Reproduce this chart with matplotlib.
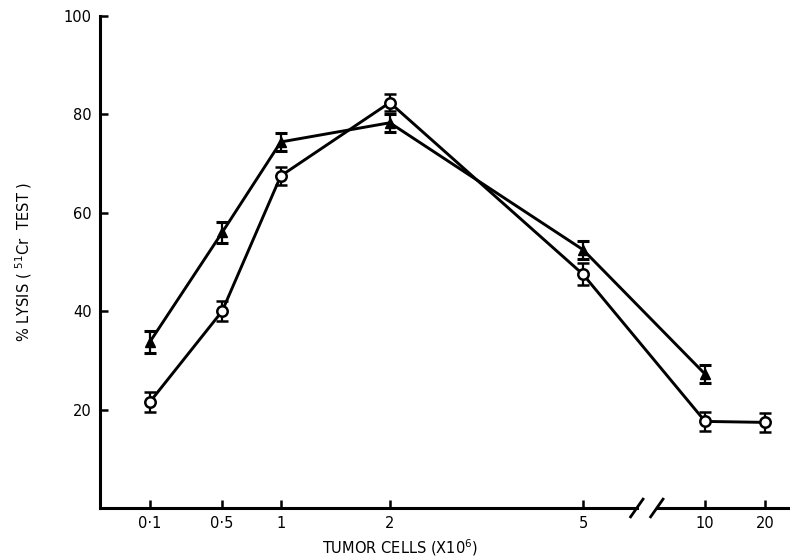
import matplotlib
matplotlib.use("Agg")
import matplotlib.pyplot as plt
from matplotlib.lines import Line2D

# tumor cell doses (x10^6) and where they sit on the hand-drawn axis
dose_labels = ["0·1", "0·5", "1", "2", "5", "10", "20"]
dose_pos = [0.72, 1.77, 2.62, 4.2, 7.0, 8.77, 9.64]

# % lysis, open circles (all doses) and filled triangles (no value at 20)
lysis_circle = [21.5, 40.0, 67.5, 82.4, 47.5, 17.6, 17.4]
err_circle = [2.0, 2.0, 1.8, 1.8, 2.2, 2.0, 2.0]
lysis_tri = [33.7, 56.0, 74.4, 78.3, 52.5, 27.2]
err_tri = [2.2, 2.2, 1.8, 1.8, 1.8, 1.8]

y_ticks = [20, 40, 60, 80, 100]

fig = plt.figure(figsize=(7.9, 5.59), dpi=100)
ax = fig.add_axes([100 / 790, 51 / 559, 690 / 790, 492 / 559])
ax.set_xlim(0, 10)
ax.set_ylim(0, 100)

ink = "black"
ax.errorbar(dose_pos, lysis_circle, yerr=err_circle, color=ink, lw=2.1,
            marker="o", ms=7.5, mfc="white", mec=ink, mew=1.8,
            ecolor=ink, elinewidth=1.6, capsize=4.5, capthick=2.2, zorder=3)
ax.errorbar(dose_pos[:len(lysis_tri)], lysis_tri, yerr=err_tri, color=ink, lw=2.1,
            marker="^", ms=7, mfc=ink, mec=ink,
            ecolor=ink, elinewidth=1.6, capsize=4.5, capthick=2.2, zorder=3)

# spines: only left and a broken bottom axis
for s in ("top", "right"):
    ax.spines[s].set_visible(False)
ax.spines["left"].set_linewidth(2.2)
ax.spines["bottom"].set_linewidth(2.2)
brk0, brk1 = 7.78, 8.07
ax.spines["bottom"].set_bounds(0, brk0)
trans = ax.get_xaxis_transform()
ax.add_line(Line2D([brk1, 10], [0, 0], transform=trans, color=ink, lw=2.2, clip_on=False))
for xb in (brk0, brk1):
    ax.add_line(Line2D([xb - 0.09, xb + 0.09], [-0.018, 0.018], transform=trans,
                       color=ink, lw=2.0, clip_on=False))

ax.set_xticks(dose_pos)
ax.set_xticklabels(dose_labels)
ax.set_yticks(y_ticks)
ax.set_yticklabels([str(v) for v in y_ticks])
ax.tick_params(direction="in", length=6, width=1.8, labelsize=10.5, color=ink)
ax.tick_params(axis="x", pad=6)
ax.tick_params(axis="y", pad=6)

ax.set_xlabel("TUMOR CELLS (X10$^{6}$)", fontsize=10.5)
ax.xaxis.set_label_coords((400 - 100) / 690, -0.06)
ax.set_ylabel("% LYSIS ( $^{51}$Cr  TEST )", fontsize=10.5)
ax.yaxis.set_label_coords(-0.095, 0.5)

fig.savefig("out.png", dpi=100)
